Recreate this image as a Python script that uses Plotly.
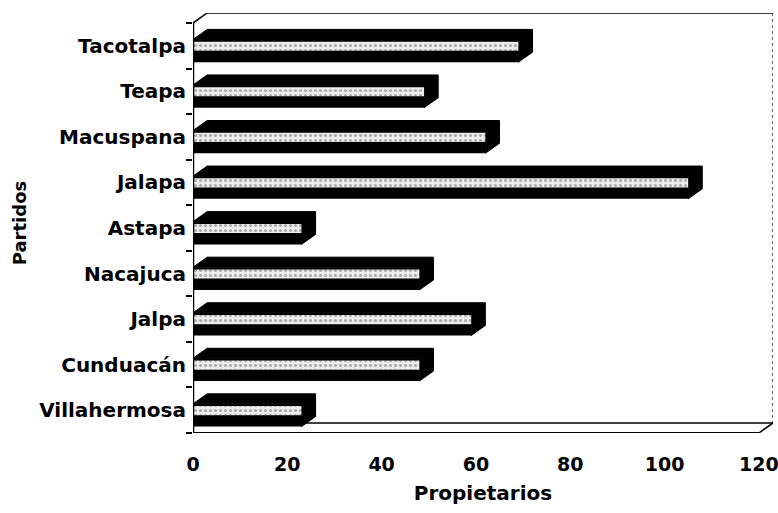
import plotly.graph_objects as go

# Data (bottom to top as drawn)
partidos = ["Villahermosa", "Cunduacán", "Jalpa", "Nacajuca", "Astapa",
            "Jalapa", "Macuspana", "Teapa", "Tacotalpa"]
propietarios = [23, 48, 59, 48, 23, 105, 62, 49, 69]
x_ticks = [0, 20, 40, 60, 80, 100, 120]

# 3D styling constants (axis units)
DX = 3.0      # depth along x
DY = 0.22     # depth along y (category units)
FRONT_W = 0.50
FRONT_OFF = -0.36
STRIPE_W = 0.2
X_MAX = 120
Y_TOP = len(partidos) - 0.5

font_family = "DejaVu Sans"

fig = go.Figure()

# front faces
fig.add_trace(go.Bar(
    y=partidos, x=propietarios, orientation="h",
    width=FRONT_W, offset=FRONT_OFF,
    marker=dict(color="black", line=dict(width=0)),
    hoverinfo="skip", showlegend=False,
))
# light speckled stripe on the front faces
fig.add_trace(go.Bar(
    y=partidos, x=propietarios, orientation="h",
    width=STRIPE_W, offset=-STRIPE_W / 2 - 0.01,
    marker=dict(color="#e6e6e6", line=dict(width=0),
                pattern=dict(shape=".", fgcolor="#6a6a6a", bgcolor="#ececec",
                             size=5, solidity=0.3)),
    hoverinfo="skip", showlegend=False,
))

shapes = []
# top + right faces of each bar
for i, v in enumerate(propietarios):
    yb = i + FRONT_OFF
    yt = yb + FRONT_W
    path = (f"M 0,{yt} L {DX},{yt + DY} L {v + DX},{yt + DY} "
            f"L {v + DX},{yb + DY} L {v},{yb} L {v},{yt} Z")
    shapes.append(dict(type="path", path=path, xref="x", yref="y",
                       fillcolor="black", line=dict(color="black", width=1),
                       layer="below"))

line = dict(color="black", width=1.5)
# back wall top edge
shapes.append(dict(type="line", xref="x", yref="y", x0=DX, y0=Y_TOP + DY,
                   x1=X_MAX + DX, y1=Y_TOP + DY, line=line))
# back wall right edge (dotted)
shapes.append(dict(type="line", xref="x", yref="y", x0=X_MAX + DX, y0=Y_TOP + DY,
                   x1=X_MAX + DX, y1=-0.5 + DY,
                   line=dict(color="black", width=1.2, dash="dot")))
# left wall corner
shapes.append(dict(type="line", xref="x", yref="y", x0=0, y0=Y_TOP,
                   x1=DX, y1=Y_TOP + DY, line=line))
# left axis line
shapes.append(dict(type="line", xref="x", yref="y", x0=0, y0=-0.5,
                   x1=0, y1=Y_TOP, line=dict(color="black", width=2.5)))
# floor
shapes.append(dict(type="line", xref="x", yref="y", x0=0, y0=-0.5,
                   x1=X_MAX, y1=-0.5, line=dict(color="black", width=2)))
shapes.append(dict(type="line", xref="x", yref="y", x0=DX, y0=-0.5 + DY,
                   x1=X_MAX + DX, y1=-0.5 + DY, line=line))
shapes.append(dict(type="line", xref="x", yref="y", x0=X_MAX, y0=-0.5,
                   x1=X_MAX + DX, y1=-0.5 + DY, line=line))

fig.update_layout(
    width=778, height=513,
    margin=dict(l=193, r=5, t=13, b=80, autoexpand=False),
    paper_bgcolor="white", plot_bgcolor="white",
    barmode="overlay",
    shapes=shapes,
    font=dict(family=font_family, color="black"),
    xaxis=dict(
        range=[0, X_MAX + DX],
        tickvals=x_ticks, ticktext=[f"<b>{t}</b>" for t in x_ticks],
        ticks="outside", ticklen=14, tickcolor="rgba(0,0,0,0)",
        ticklabeloverflow="allow", automargin=False,
        showline=False, zeroline=False, showgrid=False,
        tickfont=dict(family=font_family, size=19, color="black"),
        title=dict(text="<b>Propietarios</b>", standoff=12,
                   font=dict(family=font_family, size=20, color="black")),
        fixedrange=True,
    ),
    yaxis=dict(
        type="category",
        categoryorder="array", categoryarray=partidos,
        tickvals=partidos, ticktext=[f"<b>{p}</b>" for p in partidos],
        range=[-0.5, Y_TOP + DY],
        tickson="boundaries", ticks="outside", ticklen=6, tickwidth=1.5,
        tickcolor="black", automargin=False,
        showline=False, zeroline=False, showgrid=False,
        tickfont=dict(family=font_family, size=20, color="black"),
        ticklabelstandoff=6,
        title=dict(text="<b>Partidos</b>", standoff=7,
                   font=dict(family=font_family, size=18, color="black")),
        fixedrange=True,
    ),
)

fig.write_html("out.html")
